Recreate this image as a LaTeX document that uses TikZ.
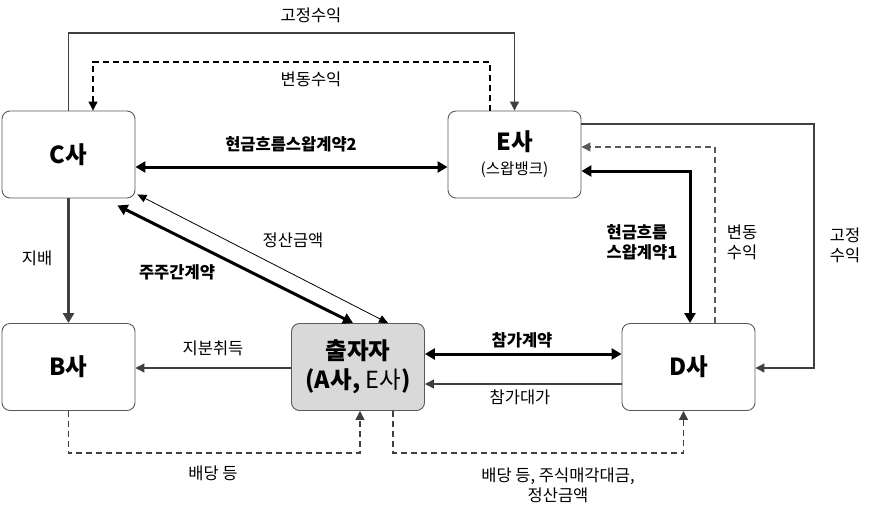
\documentclass[tikz,border=0pt]{standalone}
\usepackage{fontspec}
\setmainfont{Noto Sans CJK KR}
\usetikzlibrary{arrows.meta}
\definecolor{boxline}{HTML}{595959}
\definecolor{lineg}{HTML}{404040}
\definecolor{fillg}{HTML}{D9D9D9}
\begin{document}
\begin{tikzpicture}[x=1pt,y=-1pt,
  box/.style={draw=boxline,line width=0.9pt,rounded corners=8pt,minimum width=133pt,minimum height=87pt,
    inner sep=0pt,align=center,font=\fontsize{23.5}{29}\selectfont\bfseries},
  lbl/.style={inner sep=0pt,align=left,font=\fontsize{16.5}{20}\selectfont},
  blbl/.style={inner sep=0pt,align=left,font=\fontsize{16.5}{20}\selectfont\bfseries},
  plainarr/.style={draw=lineg,line width=1.2pt,-{Triangle[length=9pt,width=9pt]}},
  thinarr/.style={draw=black,line width=0.8pt,{Triangle[length=9pt,width=8pt]}-{Triangle[length=9pt,width=8pt]}},
  fatarr/.style={draw=black,line width=3pt,{Triangle[length=10pt,width=11pt]}-{Triangle[length=10pt,width=11pt]}},
  dasharr/.style={plainarr,line width=1.3pt,dash pattern=on 6pt off 4pt}]
\useasboundingbox (0,0) rectangle (874,515);
% companies
\node[box] (C) at (68.5,154.5) {C사};
\node[box] (E) at (514.5,154.5) {E사\\[-5pt]{\fontsize{15.5}{17}\selectfont\mdseries (스왑뱅크)}};
\node[box] (B) at (68.5,367) {B사};
\node[box,fill=fillg] (inv) at (358,367) {출자자\\(A사, {\mdseries E사})};
\node[box] (D) at (688.5,367) {D사};
% C - E
\draw[plainarr] (C.north) -- (C.north |- 0,33) -- (E.north |- 0,33) -- (E.north);
\node[lbl] (l1) at (311,15) {고정수익};
\draw[dasharr,draw=black] (E.north -| 490,0) -- (490,62) -- (93,62) -- (C.north -| 93,0);
\node[lbl] (l2) at (311,79) {변동수익};
\draw[fatarr] (C.east |- 0,167) -- (E.west |- 0,167);
\node[blbl] (l3) at (291,144) {현금흐름스왑계약2};
% C - B - investor
\draw[plainarr,line width=3pt,-{Triangle[length=10pt,width=11pt]}] (C.south) -- (B.north);
\node[lbl] (l4) at (37,258) {지배};
\draw[fatarr] ([shift={(-18,7)}]C.south east) -- (inv.north -| 353,0);
\node[blbl] (l5) at (177,272) {주주간계약};
\draw[thinarr] (inv.north -| 388,0) -- ([shift={(2,-4)}]C.south east);
\node[lbl] (l6) at (293,240) {정산금액};
\draw[plainarr] (inv.west |- 0,368) -- (B.east |- 0,368);
\node[lbl] (l7) at (213,348) {지분취득};
\draw[dasharr] (B.south) -- (B.south |- 0,453) -| ([xshift=2pt]inv.south);
\node[lbl] (l8) at (213,473) {배당 등};
% investor - D
\draw[fatarr] (inv.east |- 0,354) -- (D.west |- 0,354);
\node[blbl] (l9) at (522,340) {참가계약};
\draw[plainarr] (D.west |- 0,384) -- (inv.east |- 0,384);
\node[lbl] (l10) at (520,397) {참가대가};
\draw[dasharr] (inv.south -| 393,0) -- (393,453) -| ([xshift=-5pt]D.south);
\node[lbl,align=center] (l11) at (558,485) {배당 등, 주식매각대금,\\정산금액};
% E - D
\draw[fatarr] (E.east |- 0,171) -| (D.north -| 690,0);
\node[blbl] (l12) at (642,242) {현금흐름\\스왑계약1};
\draw[dasharr,draw=boxline] (D.north -| 715,0) -- (715,147) -- (E.east |- 0,147);
\node[lbl] (l13) at (742,242) {변동\\수익};
\draw[plainarr] (E.east |- 0,124) -- (814,124) |- (D.east |- 0,368);
\node[lbl] (l14) at (845,245) {고정\\수익};
\end{tikzpicture}
\end{document}
